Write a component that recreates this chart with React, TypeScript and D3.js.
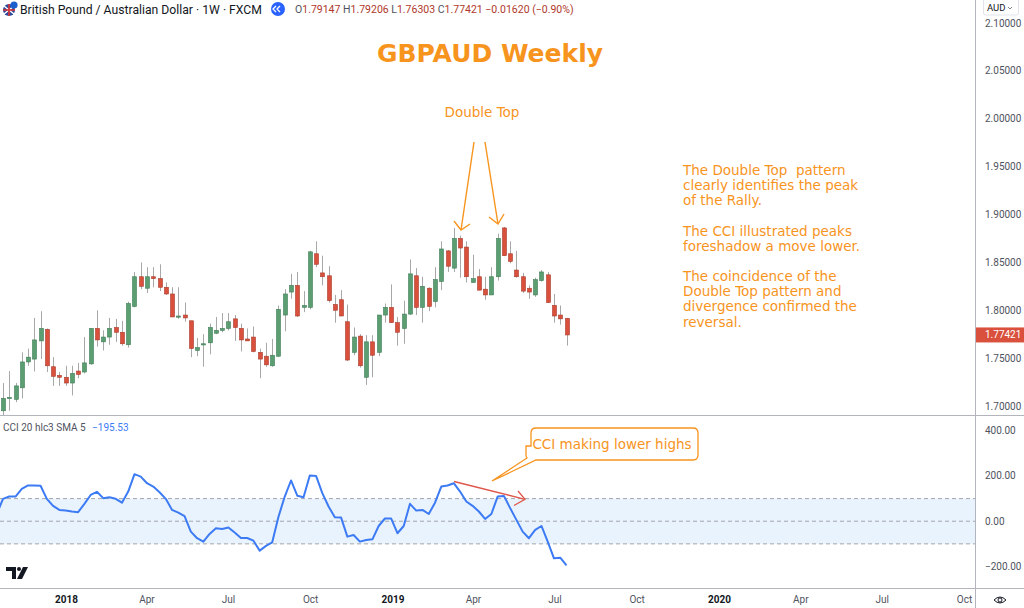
import React from "react";
import * as d3 from "d3";

// ---------- DATA ----------
const firstWeek = "2017-10-22";
const lastWeek = "2019-07-14";

const opens = [1.695,1.708,1.707,1.719,1.746,1.749,1.768,1.780,1.741,1.732,1.730,1.724,1.7365,1.7355,1.744,1.781,1.767,1.772,1.782,1.777,1.764,1.804,1.835,1.823,1.835,1.833,1.824,1.817,1.793,1.795,1.789,1.758,1.764,1.766,1.776,1.779,1.781,1.791,1.781,1.770,1.772,1.756,1.752,1.742,1.752,1.795,1.819,1.826,1.803,1.803,1.859,1.839,1.836,1.806,1.811,1.788,1.756,1.773,1.730,1.767,1.756,1.795,1.803,1.787,1.781,1.796,1.836,1.803,1.823,1.809,1.830,1.862,1.844,1.875,1.866,1.829,1.835,1.822,1.816,1.835,1.886,1.859,1.842,1.835,1.823,1.816,1.831,1.837,1.805,1.795,1.79147];
const highs = [1.724,1.7365,1.724,1.756,1.760,1.792,1.799,1.781,1.751,1.7355,1.742,1.742,1.745,1.772,1.781,1.800,1.779,1.792,1.791,1.789,1.809,1.840,1.850,1.845,1.845,1.848,1.829,1.824,1.824,1.808,1.789,1.771,1.775,1.786,1.793,1.797,1.797,1.795,1.786,1.781,1.783,1.760,1.766,1.770,1.805,1.822,1.838,1.840,1.820,1.862,1.872,1.857,1.846,1.816,1.821,1.806,1.782,1.775,1.774,1.774,1.795,1.807,1.827,1.793,1.810,1.853,1.844,1.835,1.824,1.845,1.872,1.863,1.886,1.878,1.872,1.858,1.843,1.835,1.845,1.880,1.887,1.872,1.862,1.839,1.826,1.834,1.842,1.840,1.817,1.805,1.79206];
const lows = [1.689,1.695,1.704,1.708,1.742,1.736,1.749,1.7355,1.721,1.721,1.721,1.711,1.729,1.734,1.743,1.762,1.758,1.764,1.767,1.763,1.761,1.803,1.822,1.818,1.824,1.820,1.816,1.793,1.791,1.788,1.751,1.752,1.741,1.754,1.775,1.777,1.779,1.768,1.757,1.768,1.756,1.729,1.741,1.741,1.751,1.778,1.812,1.793,1.798,1.801,1.845,1.826,1.808,1.787,1.794,1.747,1.753,1.740,1.722,1.730,1.752,1.787,1.787,1.763,1.765,1.795,1.795,1.787,1.799,1.803,1.821,1.840,1.840,1.834,1.829,1.829,1.821,1.811,1.816,1.831,1.857,1.849,1.834,1.818,1.812,1.814,1.830,1.808,1.787,1.785,1.76303];
const closes = [1.708,1.709,1.721,1.746,1.751,1.769,1.781,1.742,1.731,1.730,1.724,1.734,1.733,1.745,1.781,1.769,1.772,1.781,1.777,1.765,1.807,1.835,1.825,1.835,1.833,1.824,1.817,1.793,1.794,1.792,1.760,1.761,1.765,1.782,1.779,1.781,1.788,1.782,1.769,1.768,1.757,1.749,1.743,1.753,1.801,1.817,1.826,1.794,1.805,1.861,1.848,1.835,1.810,1.800,1.794,1.748,1.772,1.742,1.767,1.753,1.795,1.803,1.787,1.777,1.796,1.838,1.803,1.825,1.804,1.832,1.864,1.846,1.875,1.865,1.835,1.833,1.821,1.816,1.835,1.875,1.857,1.851,1.835,1.820,1.819,1.832,1.840,1.808,1.794,1.791,1.77421];

const cciPrev = 31;
const cciValues = [99,109,109,143,158,158,157,99,68,50,47,43,40,77,116,130,102,106,99,82,131,208,197,168,153,128,99,50,38,23,-46,-75,-90,-56,-31,-34,-28,-50,-74,-74,-86,-130,-109,-93,20,109,180,113,106,202,200,124,65,18,16,-68,-61,-90,-83,-80,-21,12,12,-53,-21,77,47,50,32,82,153,158,168,131,87,68,43,10,32,109,112,58,6,-46,-75,-38,-21,-90,-164,-161,-195.53];

const priceTicks = [1.70,1.75,1.80,1.85,1.90,1.95,2.00,2.05,2.10];
const cciTicks = [-200,0,200,400];
const xTickLabels = ["2018","Apr","Jul","Oct","2019","Apr","Jul","Oct","2020","Apr","Jul","Oct"];
const xTickDates = ["2018-01-01","2018-04-01","2018-07-01","2018-10-01","2019-01-01","2019-04-01","2019-07-01","2019-10-01","2020-01-01","2020-04-01","2020-07-01","2020-10-01"];

const noteLines = [
  "The Double Top  pattern",
  "clearly identifies the peak",
  "of the Rally.",
  "",
  "The CCI illustrated peaks",
  "foreshadow a move lower.",
  "",
  "The coincidence of the",
  "Double Top pattern and",
  "divergence confirmed the",
  "reversal.",
];

// ---------- LAYOUT ----------
const W = 1024, H = 608;
const PR = 975; // plot right
const MAIN_BOTTOM = 415;
const CCI_BOTTOM = 588;
const ORANGE = "#f7941d";
const GREEN = "#5b9e72";
const GREEN_B = "#3e7d55";
const RED = "#d9513c";
const RED_B = "#a83a2a";
const AXIS_TXT = "#50535e";
const FONT = "Roboto, 'Liberation Sans', sans-serif";
const NOTE_FONT = "'DejaVu Sans', Verdana, sans-serif";

const parse = d3.utcParse("%Y-%m-%d");

export default function App() {
  const start = parse(firstWeek)!;
  const end = parse(lastWeek)!;
  const dates = d3.utcWeek.range(start, d3.utcDay.offset(end, 1)).slice(0, closes.length);
  const x = d3.scaleUtc().domain([start, end]).range([3, 566.5]);
  const y = d3.scaleLinear().domain([1.7, 2.1]).range([406, 23]);
  const yc = d3.scaleLinear().domain([-200, 400]).range([566.5, 430.7]);
  const fmtP = d3.format(".5f");
  const fmtC = d3.format(".2f");

  const candles = dates.map((d, i) => ({ d, o: opens[i], h: highs[i], l: lows[i], c: closes[i] }));
  const cciPts: [number, number][] = [
    [x(d3.utcWeek.offset(start, -1)), yc(cciPrev)],
    ...cciValues.map((v, i) => [x(dates[i]), yc(v)] as [number, number]),
  ];
  const line = d3.line();
  const bw = 4;
  const last = candles[candles.length - 1];

  return (
    <svg width={W} height={H} viewBox={`0 0 ${W} ${H}`} style={{ position: "absolute", left: 0, top: 0, background: "#fff" }}>
      <defs>
        <clipPath id="mainclip"><rect x={0} y={0} width={PR} height={MAIN_BOTTOM} /></clipPath>
        <clipPath id="cciclip"><rect x={0} y={MAIN_BOTTOM + 1} width={PR} height={CCI_BOTTOM - MAIN_BOTTOM - 1} /></clipPath>
      </defs>
      <rect x={0} y={0} width={W} height={H} fill="#fff" />

      {/* CCI band */}
      <rect x={0} y={yc(100)} width={PR} height={yc(-100) - yc(100)} fill="#e8f3fd" />
      {[100, 0, -100].map((v) => (
        <line key={v} x1={0} x2={PR} y1={yc(v)} y2={yc(v)} stroke="#a3a6ad" strokeDasharray="4 3" strokeWidth={1} />
      ))}

      {/* candles */}
      <g clipPath="url(#mainclip)">
        {candles.map((k, i) => {
          const up = k.c >= k.o;
          const cx = Math.round(x(k.d)) + 0.5;
          const top = y(Math.max(k.o, k.c));
          const bot = y(Math.min(k.o, k.c));
          return (
            <g key={i}>
              <line x1={cx} x2={cx} y1={y(k.h)} y2={y(k.l)} stroke="#a8a8a8" strokeWidth={1} />
              <rect x={cx - bw / 2} y={top} width={bw} height={Math.max(1.2, bot - top)} fill={up ? GREEN : RED} stroke={up ? GREEN_B : RED_B} strokeWidth={0.6} />
            </g>
          );
        })}
      </g>

      {/* CCI line */}
      <g clipPath="url(#cciclip)">
        <path d={line(cciPts) || ""} fill="none" stroke="#3d7bf5" strokeWidth={2} strokeLinejoin="round" />
      </g>

      {/* divergence arrow */}
      <g stroke="#e0574a" strokeWidth={1.3} fill="none">
        <line x1={454} y1={481.5} x2={525} y2={499.3} />
        <polyline points="518,491 525,499.3 514,505.5" />
      </g>

      {/* callout */}
      <path d="M531,446 L531,433 Q531,428 536,428 L693,428 Q698,428 698,433 L698,455 Q698,460 693,460 L536,460 L492,481 L527,458 Q526,457 526,455 L526,446 Z" fill="#fff" stroke={ORANGE} strokeWidth={1.3} />
      <text x={612} y={449} textAnchor="middle" fontFamily={NOTE_FONT} fontSize={13.5} fill={ORANGE}>CCI making lower highs</text>

      {/* pane separators and axis lines */}
      <line x1={0} x2={W} y1={MAIN_BOTTOM + 0.5} y2={MAIN_BOTTOM + 0.5} stroke="#b2b5be" strokeWidth={1} />
      <line x1={0} x2={W} y1={CCI_BOTTOM + 0.5} y2={CCI_BOTTOM + 0.5} stroke="#b2b5be" strokeWidth={1} />
      <line x1={PR + 0.5} x2={PR + 0.5} y1={0} y2={H} stroke="#b2b5be" strokeWidth={1} />

      {/* price axis */}
      {priceTicks.map((p) => (
        <text key={p} x={985} y={y(p) + 3.5} fontFamily={FONT} fontSize={10} fill={AXIS_TXT}>{fmtP(p)}</text>
      ))}
      <rect x={PR + 1} y={y(last.c) - 7.5} width={W - PR - 1} height={15} fill="#d9503d" />
      <text x={985} y={y(last.c) + 3.5} fontFamily={FONT} fontSize={10} fill="#fff">{fmtP(last.c)}</text>
      <rect x={983} y={0} width={36} height={16} fill="#fff" />
      <rect x={983.5} y={-2} width={35} height={17} fill="#fff" stroke="#e0e3eb" rx={2} />
      <text x={987} y={11} fontFamily={FONT} fontSize={9.5} fill="#131722">AUD</text>
      <path d="M1008,7 l2,2 l2,-2" fill="none" stroke="#666" strokeWidth={0.8} />

      {/* cci axis */}
      {cciTicks.map((v) => (
        <text key={v} x={985} y={yc(v) + 3.5} fontFamily={FONT} fontSize={10} fill={AXIS_TXT}>{fmtC(v)}</text>
      ))}

      {/* time axis */}
      {xTickLabels.map((lab, i) => {
        const bold = /^\d{4}$/.test(lab);
        return (
          <text key={i} x={x(parse(xTickDates[i])!)} y={603} textAnchor="middle" fontFamily={FONT} fontSize={10} fill={bold ? "#131722" : AXIS_TXT} fontWeight={bold ? 700 : 400}>{lab}</text>
        );
      })}
      <g transform="translate(1000,600)" fill="none" stroke="#131722" strokeWidth={1}>
        <path d="M-6,0 Q0,-6 6,0 Q0,6 -6,0 Z" />
        <circle cx={0} cy={0} r={2} />
      </g>

      {/* header */}
      <g>
        <circle cx={9} cy={10} r={6} fill="#2c4a9a" />
        <path d="M4,6 L14,14 M4,14 L14,6" stroke="#fff" strokeWidth={1.6} />
        <path d="M9,4 L9,16 M3,10 L15,10" stroke="#d33" strokeWidth={1.6} />
        <circle cx={14} cy={5} r={3.6} fill="#1b5fcf" />
      </g>
      <text x={20} y={14} fontFamily={FONT} fontSize={12.2} fill="#131722">British Pound / Australian Dollar · 1W · FXCM</text>
      <circle cx={278} cy={9} r={7} fill="#2962ff" />
      <path d="M276,6 l-3,3 l3,3 M280,6 l-3,3 l3,3" fill="none" stroke="#fff" strokeWidth={1.3} />
      <text x={295} y={13} fontFamily={FONT} fontSize={10.5} fill="#b0392b">
        <tspan fill="#50535e">O</tspan>1.79147 <tspan fill="#50535e">H</tspan>1.79206 <tspan fill="#50535e">L</tspan>1.76303 <tspan fill="#50535e">C</tspan>1.77421 −0.01620 (−0.90%)
      </text>

      {/* CCI legend */}
      <text x={3} y={431} fontFamily={FONT} fontSize={10} fill="#50535e">CCI 20 hlc3 SMA 5 <tspan dx={4} fill="#3d7bf5">{"\u2212"}{Math.abs(cciValues[cciValues.length - 1]).toFixed(2)}</tspan></text>

      {/* title and annotations */}
      <text x={490} y={61.5} textAnchor="middle" fontFamily={NOTE_FONT} fontWeight={700} fontSize={25} fill={ORANGE}>GBPAUD Weekly</text>
      <text x={482} y={117} textAnchor="middle" fontFamily={NOTE_FONT} fontSize={13.5} fill={ORANGE}>Double Top</text>
      <g stroke={ORANGE} strokeWidth={1.4} fill="none">
        <line x1={474} y1={142} x2={461} y2={230} />
        <polyline points="454,221 461,230 470,224" />
        <line x1={485} y1={142} x2={498} y2={224} />
        <polyline points="489,217 498,224 504,214" />
      </g>
      {noteLines.map((t, i) => (
        <text key={i} x={683} y={175 + i * 15.15} fontFamily={NOTE_FONT} fontSize={13.5} fill={ORANGE} style={{ whiteSpace: "pre" }}>{t}</text>
      ))}

      {/* logo */}
      <g fill="#131722">
        <path d="M6,567 H16 V579 H12 V571 H6 Z" />
        <circle cx={19} cy={569} r={2} />
        <path d="M23,567 H28 L22,579 H17 Z" />
      </g>
    </svg>
  );
}
